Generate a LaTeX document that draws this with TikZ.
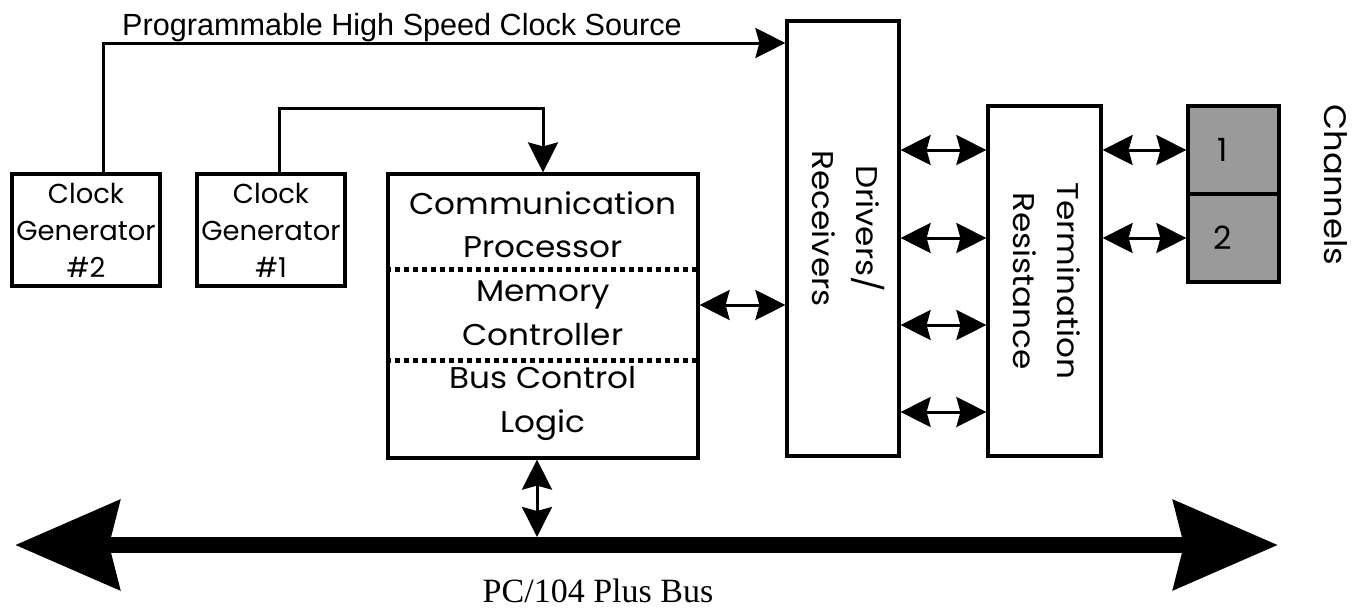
\documentclass[tikz,border=0pt]{standalone}
\usepackage{fontspec}
\newfontfamily\gothicfont[FakeStretch=1.09]{Poppins}
\newfontfamily\clockfont{Poppins}
\newfontfamily\labelfont{Liberation Sans}
\newfontfamily\busfont{Liberation Serif}
\usetikzlibrary{arrows.meta,calc}
\definecolor{changray}{HTML}{9A9A9A}
\begin{document}
\begin{tikzpicture}[x=0.5pt,y=-0.5pt,
  box/.style={draw,line width=1.6pt,inner sep=0pt,align=center,font=\gothicfont\fontsize{15}{21.8}\selectfont},
  clk/.style={box,line width=2pt,minimum width=74pt,minimum height=56pt,font=\clockfont\fontsize{13.7}{18.5}\selectfont},
  chan/.style={box,fill=changray,minimum width=45.5pt,minimum height=44pt,font=\clockfont\fontsize{16}{18}\selectfont},
  arr/.style={line width=1.5pt,-{Stealth[length=15pt,width=15pt,inset=2pt]}},
  dbl/.style={line width=1.5pt,{Stealth[length=15pt,width=15pt,inset=2pt]}-{Stealth[length=15pt,width=15pt,inset=2pt]}},
  bus/.style={line width=8pt,{Stealth[length=52pt,width=44pt,inset=5pt]}-{Stealth[length=52pt,width=44pt,inset=5pt]}},
  sep/.style={line width=2.5pt,dash pattern=on 2.5pt off 2pt}]
\useasboundingbox (0,0) rectangle (1357,612);
\node[clk] (clk2) at (86,230) {Clock\\Generator\\\#2};
\node[clk] (clk1) at (271,230) {Clock\\Generator\\\#1};
\node[box,minimum width=155pt,minimum height=142pt] (comm) at (543,316)
  {Communication\\Processor\\Memory\\Controller\\Bus Control\\Logic};
\node[box,minimum width=56pt,minimum height=217.5pt] (drv) at (843,238.5)
  {\rotatebox{-90}{\begin{tabular}{@{}c@{}}Drivers/\\Receivers\end{tabular}\hspace{10pt}}};
\node[box,minimum width=56.5pt,minimum height=175pt] (term) at (1044.5,281)
  {\rotatebox{-90}{\begin{tabular}{@{}c@{}}Termination\\Resistance\end{tabular}}};
\node[chan] (ch1) at (1233.5,150) {1\hspace{11pt}};
\node[chan] (ch2) at (1233.5,238) {2\hspace{11pt}};
\node[rotate=-90,font=\gothicfont\fontsize{15.5}{18}\selectfont] (chn) at (1336,185) {Channels};
\node[anchor=base,font=\labelfont\fontsize{15.3}{17}\selectfont] (src) at (402,35) {Programmable High Speed Clock Source};
\node[anchor=base,font=\busfont\fontsize{17}{20}\selectfont] (buslbl) at (598,602) {PC/104 Plus Bus};

\draw[sep] ($(comm.north west)!0.338!(comm.south west)$) -- ($(comm.north east)!0.338!(comm.south east)$);
\draw[sep] ($(comm.north west)!0.655!(comm.south west)$) -- ($(comm.north east)!0.655!(comm.south east)$);

\draw[arr] (clk2.north -| 103,0) |- (drv.west |- 0,43);
\draw[arr] (clk1.north -| 279,0) |- (comm.north |- 0,108) -- (comm.north);
\draw[dbl] (comm.east |- 0,305) -- (drv.west |- 0,305);
\foreach \yy in {150,238,325,412}
  \draw[dbl] (drv.east |- 0,\yy) -- (term.west |- 0,\yy);
\draw[dbl] (term.east |- ch1.west) -- (ch1.west);
\draw[dbl] (term.east |- ch2.west) -- (ch2.west);

\coordinate (busL) at (15,545);
\coordinate (busR) at (1278,545);
\coordinate (tap) at (537,537);
\draw[bus] (busL) -- (busR);
\draw[dbl] (comm.south -| tap) -- (tap);
\end{tikzpicture}
\end{document}
